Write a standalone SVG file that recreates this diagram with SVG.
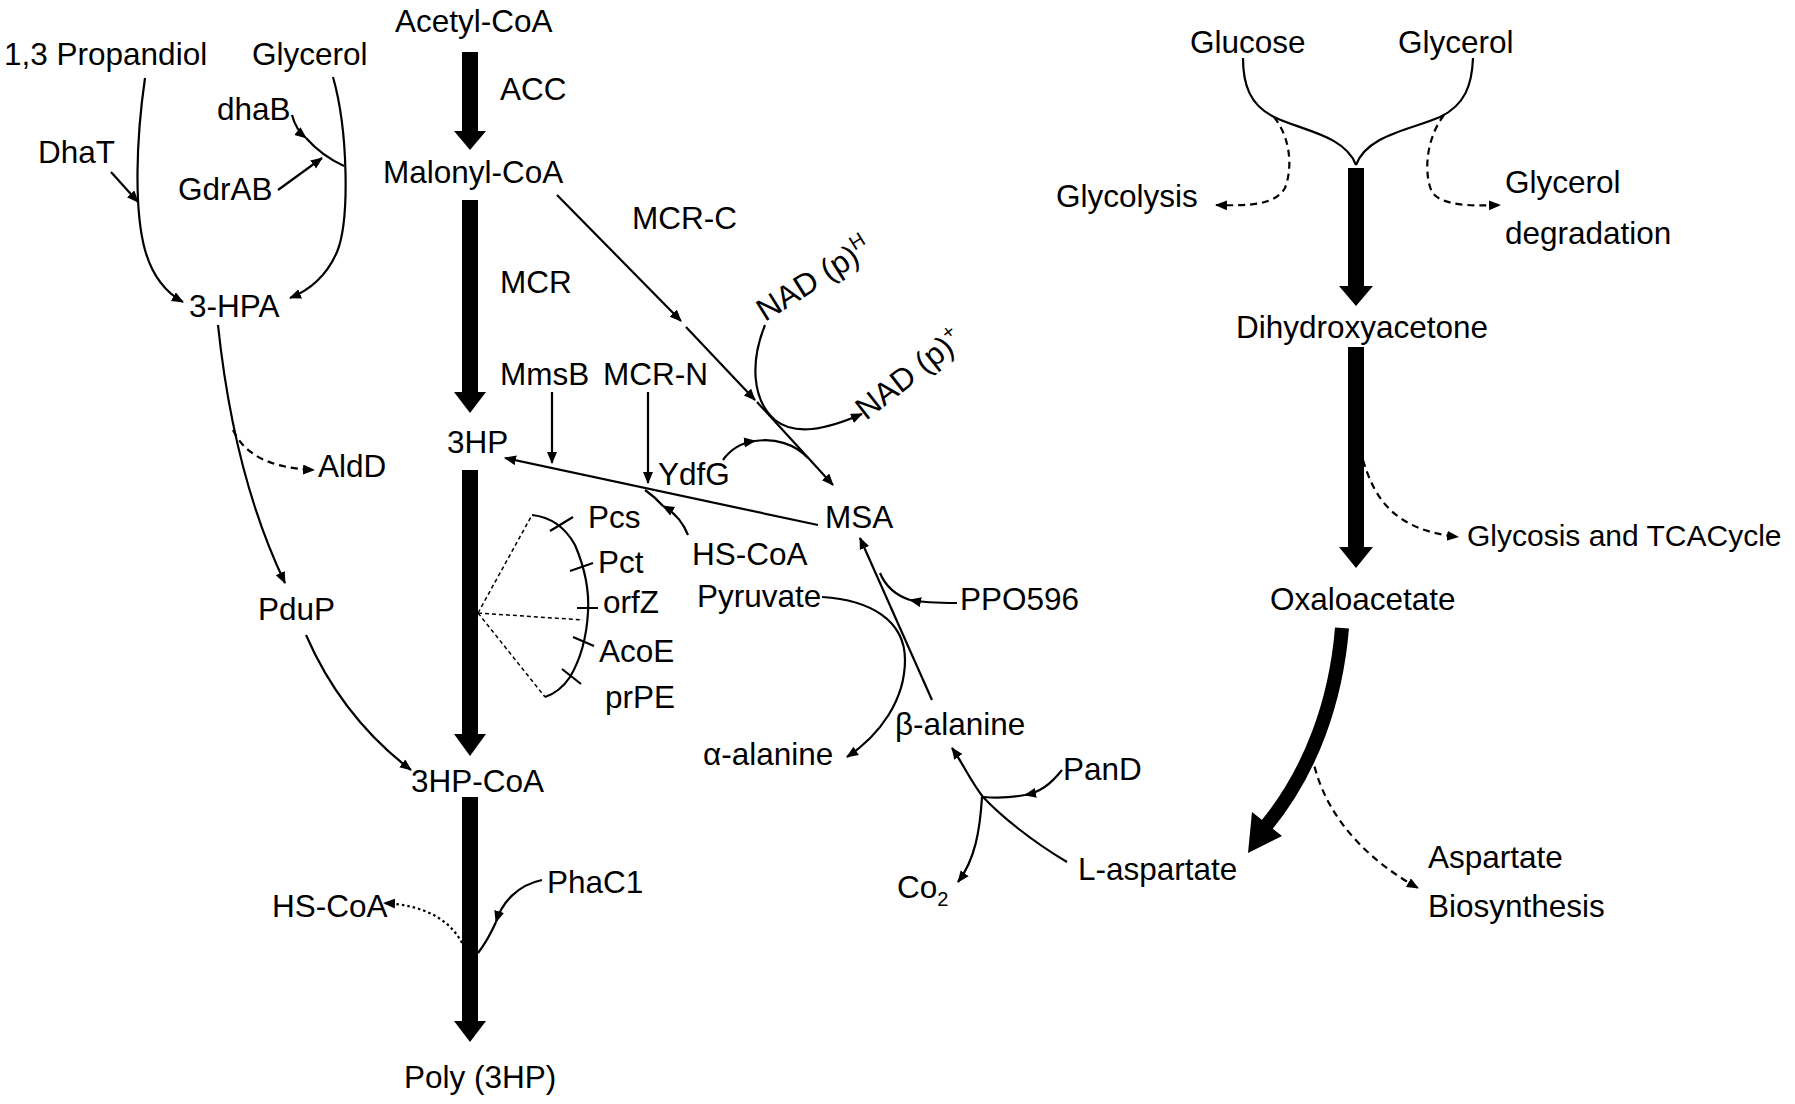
<svg xmlns="http://www.w3.org/2000/svg" width="1795" height="1104" viewBox="0 0 1795 1104">
<style>
text{font-family:"Liberation Sans",Arial,sans-serif;font-size:31.5px;fill:#000}
.ln{fill:none;stroke:#000;stroke-width:2.2}
.ds{stroke-dasharray:7,5}
.dt{stroke-dasharray:2.5,3}
.fd{fill:none;stroke:#000;stroke-width:1.5;stroke-dasharray:4,3}
.th{fill:#000;stroke:none}
.sm{font-size:20px}
</style>
<defs>
<marker id="ah" markerUnits="userSpaceOnUse" markerWidth="14" markerHeight="12" refX="11" refY="5" orient="auto">
<path d="M0,0 L12,5 L0,10 z" fill="#000"/>
</marker>
</defs>
<rect width="1795" height="1104" fill="#fff"/>
<g id="connectors">
<!-- thick arrows -->
<rect class="th" x="462" y="52" width="16" height="80"/><polygon class="th" points="454,131 486,131 470,150"/>
<rect class="th" x="462" y="200" width="16" height="193"/><polygon class="th" points="454,392 486,392 470,413"/>
<rect class="th" x="462" y="470" width="16" height="265"/><polygon class="th" points="454,734 486,734 470,756"/>
<rect class="th" x="462" y="797" width="16" height="225"/><polygon class="th" points="454,1021 486,1021 470,1042"/>
<rect class="th" x="1348" y="168" width="16" height="119"/><polygon class="th" points="1339,286 1373,286 1356,306"/>
<rect class="th" x="1348" y="347" width="16" height="201"/><polygon class="th" points="1339,547 1373,547 1356,568"/>
<path d="M1342,628 C1336,700 1312,770 1266,826" fill="none" stroke="#000" stroke-width="14"/>
<polygon class="th" points="1252,812 1282,836 1248,853"/>
<!-- left loop -->
<path class="ln" d="M145,78 C136,140 134,210 145,250 C152,275 165,292 183,302" marker-end="url(#ah)"/>
<path class="ln" d="M333,77 C348,130 350,220 337,252 C327,275 310,290 290,298" marker-end="url(#ah)"/>
<path class="ln" d="M111,172 L138,202" marker-end="url(#ah)"/>
<path class="ln" d="M292,115 Q296,130 306,138" marker-end="url(#ah)"/>
<path class="ln" d="M306,138 Q322,156 344,166"/>
<path class="ln" d="M278,190 L322,158" marker-end="url(#ah)"/>
<path class="ln" d="M218,325 C228,420 250,510 285,583" marker-end="url(#ah)"/>
<path class="ln ds" d="M233,430 C245,455 270,468 314,470" marker-end="url(#ah)"/>
<path class="ln" d="M306,635 C330,690 365,735 411,770" marker-end="url(#ah)"/>
<path class="ln dt" d="M462,943 C450,920 425,905 384,903" marker-end="url(#ah)"/>
<path class="ln" d="M542,880 C518,885 502,902 496,922" marker-end="url(#ah)"/>
<path class="ln" d="M496,922 Q488,940 478,953"/>
<!-- middle -->
<path class="ln" d="M552,392 L552,463" marker-end="url(#ah)"/>
<path class="ln" d="M648,392 L648,483" marker-end="url(#ah)"/>
<path class="ln" d="M818,525 L505,458" marker-end="url(#ah)"/>
<path class="ln" d="M688,535 C682,520 672,511 663,506" marker-end="url(#ah)"/>
<path class="ln" d="M663,506 Q655,497 645,490"/>
<path class="ln" d="M557,195 L681,321" marker-end="url(#ah)"/>
<path class="ln" d="M686,327 L755,400" marker-end="url(#ah)"/>
<path class="ln" d="M757,402 L833,485" marker-end="url(#ah)"/>
<path class="ln" d="M765,325 C750,362 752,400 775,420 C795,436 825,430 862,414" marker-end="url(#ah)"/>
<path class="ln" d="M723,460 C730,450 740,443 755,441" marker-end="url(#ah)"/>
<path class="ln" d="M755,441 C775,438 795,444 808,458"/>
<path class="ln" d="M932,700 L860,538" marker-end="url(#ah)"/>
<path class="ln" d="M957,603 C940,603 925,603 910,600" marker-end="url(#ah)"/>
<path class="ln" d="M910,600 C895,595 885,585 880,573"/>
<path class="ln" d="M822,597 C870,600 905,620 905,660 C905,700 880,735 847,757" marker-end="url(#ah)"/>
<path class="ln" d="M1067,862 C1030,840 1000,815 983,797 C970,780 962,762 952,748" marker-end="url(#ah)"/>
<path class="ln" d="M1062,770 C1050,785 1040,792 1025,795" marker-end="url(#ah)"/>
<path class="ln" d="M1025,795 C1010,798 995,798 983,797"/>
<path class="ln" d="M982,797 C980,830 975,860 958,882" marker-end="url(#ah)"/>
<!-- arc with ticks -->
<path class="ln" d="M532,515 Q560,518 575,545 Q590,580 588,612 Q586,650 570,677 Q560,692 545,697"/>
<path class="ln" d="M550,531 L573,517 M570,571 L593,563 M577,608 L598,608 M573,637 L594,646 M562,669 L581,684"/>
<path class="fd" d="M478,613 L532,515 M478,613 L583,620 M478,613 L545,697"/>
<!-- right -->
<path class="ln" d="M1243,58 C1243,85 1250,105 1274,117 C1300,130 1345,135 1356,165"/>
<path class="ln" d="M1473,58 C1472,85 1465,105 1440,117 C1410,130 1367,135 1356,165"/>
<path class="ln ds" d="M1274,117 C1292,140 1292,170 1285,188 C1275,205 1250,206 1216,205" marker-end="url(#ah)"/>
<path class="ln ds" d="M1444,115 C1425,140 1424,175 1432,192 C1442,206 1470,206 1500,205" marker-end="url(#ah)"/>
<path class="ln ds" d="M1363,460 C1375,500 1395,530 1458,537" marker-end="url(#ah)"/>
<path class="ln ds" d="M1312,755 C1320,800 1350,850 1418,888" marker-end="url(#ah)"/>
</g>
<g id="n-acetylcoa"><text x="395" y="32">Acetyl-CoA</text></g>
<g id="n-propandiol"><text x="4" y="65">1,3 Propandiol</text></g>
<g id="n-glycerol1"><text x="252" y="65">Glycerol</text></g>
<g id="e-dhab"><text x="217" y="120">dhaB</text></g>
<g id="e-dhat"><text x="38" y="163">DhaT</text></g>
<g id="e-gdrab"><text x="178" y="200">GdrAB</text></g>
<g id="n-malonylcoa"><text x="383" y="183">Malonyl-CoA</text></g>
<g id="e-acc"><text x="500" y="100">ACC</text></g>
<g id="e-mcrc"><text x="632" y="229">MCR-C</text></g>
<g id="e-mcr"><text x="500" y="293">MCR</text></g>
<g id="e-mmsb"><text x="500" y="385">MmsB</text></g>
<g id="e-mcrn"><text x="603" y="385">MCR-N</text></g>
<g id="n-nadph"><text transform="translate(765,322) rotate(-32)">NAD (p)<tspan class="sm" dy="-13">H</tspan></text></g>
<g id="n-nadp"><text transform="translate(866,421) rotate(-38)">NAD (p)<tspan class="sm" dy="-13">+</tspan></text></g>
<g id="n-3hp"><text x="447" y="453">3HP</text></g>
<g id="e-ydfg"><text x="658" y="485">YdfG</text></g>
<g id="n-msa"><text x="825" y="528">MSA</text></g>
<g id="e-pcs"><text x="588" y="528">Pcs</text></g>
<g id="e-pct"><text x="598" y="573">Pct</text></g>
<g id="e-orfz"><text x="603" y="613">orfZ</text></g>
<g id="e-acoe"><text x="599" y="662">AcoE</text></g>
<g id="e-prpe"><text x="605" y="708">prPE</text></g>
<g id="n-hscoa1"><text x="692" y="565">HS-CoA</text></g>
<g id="n-pyruvate"><text x="697" y="607">Pyruvate</text></g>
<g id="e-ppo596"><text x="960" y="610">PPO596</text></g>
<g id="n-balanine"><text x="895" y="735">β-alanine</text></g>
<g id="n-aalanine"><text x="703" y="765">α-alanine</text></g>
<g id="e-pand"><text x="1063" y="780">PanD</text></g>
<g id="n-3hpcoa"><text x="411" y="792">3HP-CoA</text></g>
<g id="n-co2"><text x="897" y="898">Co<tspan class="sm" dy="8">2</tspan></text></g>
<g id="n-laspartate"><text x="1078" y="880">L-aspartate</text></g>
<g id="e-phac1"><text x="547" y="893">PhaC1</text></g>
<g id="n-hscoa2"><text x="272" y="917">HS-CoA</text></g>
<g id="n-poly3hp"><text x="404" y="1088">Poly (3HP)</text></g>
<g id="n-3hpa"><text x="189" y="317">3-HPA</text></g>
<g id="n-aldd"><text x="318" y="477">AldD</text></g>
<g id="e-pdup"><text x="258" y="620">PduP</text></g>
<g id="n-glucose"><text x="1190" y="53">Glucose</text></g>
<g id="n-glycerol2"><text x="1398" y="53">Glycerol</text></g>
<g id="n-glycolysis"><text x="1056" y="207">Glycolysis</text></g>
<g id="n-glyceroldeg"><text x="1505" y="193">Glycerol</text><text x="1505" y="244">degradation</text></g>
<g id="n-dihydroxyacetone"><text x="1236" y="338">Dihydroxyacetone</text></g>
<g id="n-tca"><text x="1467" y="546" style="font-size:30px">Glycosis and TCACycle</text></g>
<g id="n-oxaloacetate"><text x="1270" y="610">Oxaloacetate</text></g>
<g id="n-aspbio"><text x="1428" y="868">Aspartate</text><text x="1428" y="917">Biosynthesis</text></g>
</svg>
